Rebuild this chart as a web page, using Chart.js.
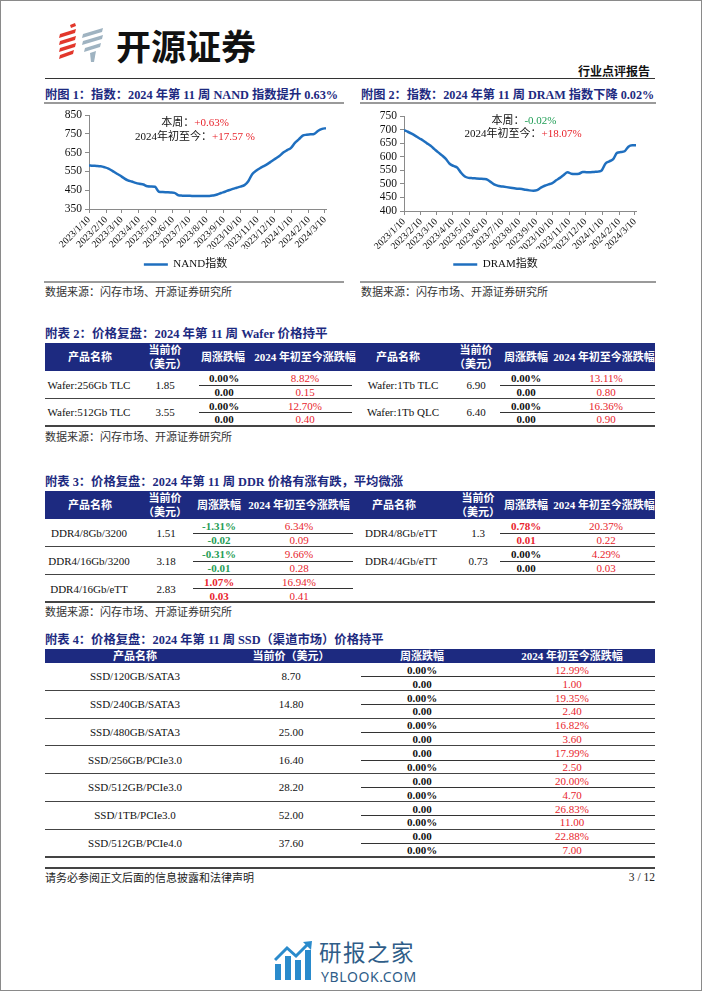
<!DOCTYPE html>
<html>
<head>
<meta charset="utf-8">
<script src="https://cdn.jsdelivr.net/npm/chart.js@4.4.1/dist/chart.umd.min.js"></script>
<style>
body { margin: 0; background: #fff; }
#page { position: relative; width: 702px; height: 991px; overflow: hidden; background: #fff;
  font-family: "Liberation Serif", "Noto Sans CJK SC", serif; color: #111; }
.frame { position: absolute; left: 0; top: 0; right: 0; bottom: 0; border: 1px solid #8a8a8a; pointer-events: none; }
.t { position: absolute; white-space: nowrap; line-height: 1; }
.ln { position: absolute; }
.cv { position: absolute; }
.red { color: #e8242c; }
.green { color: #1f9d55; }
</style>
</head>
<body>
<div id="page">
  <svg class="ln" style="left:54px;top:20px" width="56" height="46" viewBox="0 0 56 46">
    <g fill="#e2372b">
      <path d="M16 5 L21 3 L22 6 L17 8 Z"/>
      <path d="M6 14 L22 9 L21 13 L5 18 Z"/>
      <path d="M6 21 L22 16 L21 20 L5 25 Z"/>
      <path d="M6 28 L22 23 L21 27 L5 32 Z"/>
      <path d="M6 35 L20 30 L19 34 L5 39 Z"/>
    </g>
    <g fill="#9fb3c1">
      <path d="M29 14 L49 8 L48 12 L28 18 Z"/>
      <path d="M29 21 L49 15 L48 19 L28 25 Z"/>
      <path d="M31 28 L47 23 L46 27 L30 32 Z"/>
      <path d="M36 33 L42 31 L40 42 L37 42 Z"/>
    </g>
  </svg>
  <canvas id="nand" class="cv" width="300" height="175" style="left:45px;top:105px;width:300px;height:175px"></canvas>
  <canvas id="dram" class="cv" width="300" height="175" style="left:355px;top:105px;width:300px;height:175px"></canvas>
  <div class="frame"></div>
</div>
<script>
// x轴刻度（每月10日）
const monthTicks = ['2023/1/10', '2023/2/10', '2023/3/10', '2023/4/10', '2023/5/10', '2023/6/10', '2023/7/10',
  '2023/8/10', '2023/9/10', '2023/10/10', '2023/11/10', '2023/12/10', '2024/1/10', '2024/2/10', '2024/3/10'];
const startDate = '2023/1/10';

// 周度指数，从 2023/1/10 起每周一个点
const nandIndex = [582, 580, 579, 577, 572, 565, 553, 540, 528, 514, 502, 496, 489, 484, 480, 471,
  470, 468, 442, 440, 439, 438, 436, 423, 421, 420, 420, 419, 419, 419, 419, 419,
  422, 427, 435, 442, 450, 457, 463, 469, 477, 498, 535, 553, 567, 578, 590, 604,
  618, 632, 650, 663, 675, 702, 720, 740, 745, 747, 750, 766, 776, 780];
const dramIndex = [698, 692, 685, 677, 668, 660, 650, 640, 628, 616, 605, 592, 574, 566, 560, 541,
  527, 522, 521, 520, 519, 518, 515, 505, 496, 492, 490, 488, 486, 484, 482, 481,
  478, 476, 475, 477, 486, 493, 498, 503, 513, 522, 533, 543, 537, 536, 537, 544,
  543, 543, 544, 545, 550, 575, 583, 591, 614, 617, 620, 637, 642, 642];

const nandNote = { week: '+0.63%', ytd: '+17.57 %' };
const dramNote = { week: '-0.02%', ytd: '+18.07%' };

// 表格数据：名称、当前价、周涨跌幅、周涨跌额、年初至今涨跌幅、年初至今涨跌额
const waferLeft = [
  ['Wafer:256Gb TLC', '1.85', '0.00%', '0.00', '8.82%', '0.15'],
  ['Wafer:512Gb TLC', '3.55', '0.00%', '0.00', '12.70%', '0.40']
];
const waferRight = [
  ['Wafer:1Tb TLC', '6.90', '0.00%', '0.00', '13.11%', '0.80'],
  ['Wafer:1Tb QLC', '6.40', '0.00%', '0.00', '16.36%', '0.90']
];
const ddrLeft = [
  ['DDR4/8Gb/3200', '1.51', '-1.31%', '-0.02', '6.34%', '0.09'],
  ['DDR4/16Gb/3200', '3.18', '-0.31%', '-0.01', '9.66%', '0.28'],
  ['DDR4/16Gb/eTT', '2.83', '1.07%', '0.03', '16.94%', '0.41']
];
const ddrRight = [
  ['DDR4/8Gb/eTT', '1.3', '0.78%', '0.01', '20.37%', '0.22'],
  ['DDR4/4Gb/eTT', '0.73', '0.00%', '0.00', '4.29%', '0.03']
];
const ssdRows = [
  ['SSD/120GB/SATA3', '8.70', '0.00%', '0.00', '12.99%', '1.00'],
  ['SSD/240GB/SATA3', '14.80', '0.00%', '0.00', '19.35%', '2.40'],
  ['SSD/480GB/SATA3', '25.00', '0.00%', '0.00', '16.82%', '3.60'],
  ['SSD/256GB/PCIe3.0', '16.40', '0.00', '0.00%', '17.99%', '2.50'],
  ['SSD/512GB/PCIe3.0', '28.20', '0.00', '0.00%', '20.00%', '4.70'],
  ['SSD/1TB/PCIe3.0', '52.00', '0.00', '0.00%', '26.83%', '11.00'],
  ['SSD/512GB/PCIe4.0', '37.60', '0.00', '0.00%', '22.88%', '7.00']
];

const NAVY = '#1d2a80';
const RED = '#e8242c';
const GREEN = '#1f9d55';
const page = document.getElementById('page');

const txt = (x, y, s, o = {}) => {
  const d = document.createElement('div');
  d.className = 't';
  d.innerHTML = s;
  d.style.left = x + 'px';
  d.style.top = y + 'px';
  const ax = o.align === 'left' ? '0' : o.align === 'right' ? '-100%' : '-50%';
  d.style.transform = `translate(${ax}, -50%)`;
  d.style.fontSize = (o.size || 11) + 'px';
  if (o.bold) d.style.fontWeight = 'bold';
  if (o.color) d.style.color = o.color;
  if (o.ls) d.style.letterSpacing = o.ls + 'px';
  if (o.family) d.style.fontFamily = o.family;
  page.insertBefore(d, page.querySelector('.frame'));
  return d;
};
const rect = (x, y, w, h, c) => {
  const d = document.createElement('div');
  d.className = 'ln';
  Object.assign(d.style, { left: x + 'px', top: y + 'px', width: w + 'px', height: h + 'px', background: c });
  page.insertBefore(d, page.querySelector('.frame'));
};
const hline = (x1, x2, y, w = 1, c = '#444') => rect(x1, y - w / 2, x2 - x1, w, c);

// 页眉
txt(116, 44, '开源证券', { size: 35, bold: true, align: 'left', family: '"Noto Sans CJK SC"', color: '#111' });
txt(650, 71, '行业点评报告', { size: 12, bold: true, align: 'right', family: '"Noto Sans CJK SC"' });
hline(45, 655, 78.5, 1.5, '#333');

// 图标题
txt(45, 95, '附图 1：指数：2024 年第 11 周 NAND 指数提升 0.63%', { size: 12.3, bold: true, align: 'left', color: NAVY });
txt(361, 95, '附图 2：指数：2024 年第 11 周 DRAM 指数下降 0.02%', { size: 12.2, bold: true, align: 'left', color: NAVY });
hline(44, 344, 103, 1.5, '#9a9a9a');
hline(360, 656, 103, 1.5, '#9a9a9a');
hline(44, 344, 282, 1.5, '#9a9a9a');
hline(360, 656, 282, 1.5, '#9a9a9a');
txt(45, 292, '数据来源：闪存市场、开源证券研究所', { size: 11, align: 'left', color: '#333' });
txt(361, 292, '数据来源：闪存市场、开源证券研究所', { size: 11, align: 'left', color: '#333' });

// 图内注释
txt(195, 122, `本周：<span class="red">${nandNote.week}</span>`, { size: 11 });
txt(195, 135.5, `2024年初至今：<span class="red">${nandNote.ytd}</span>`, { size: 11 });
txt(524, 119.5, `本周：<span class="green">${dramNote.week}</span>`, { size: 11 });
txt(523, 133, `2024年初至今：<span class="red">${dramNote.ytd}</span>`, { size: 11 });

// 折线图
const dayOf = s => {
  const [y, m, d] = s.split('/').map(Number);
  const [y0, m0, d0] = startDate.split('/').map(Number);
  return Math.round((Date.UTC(y, m - 1, d) - Date.UTC(y0, m0 - 1, d0)) / 864e5);
};
const tickDays = monthTicks.map(dayOf);
const weekly = vals => vals.map((v, i) => ({ x: i * 7, y: v }));
const serif = 'Liberation Serif, "Noto Sans CJK SC", serif';

const makeChart = (id, label, values, yMin, yMax, step, yWidth, xHeight, padTop, padRight) => {
  const pts = weekly(values);
  new Chart(document.getElementById(id), {
    type: 'line',
    data: {
      datasets: [{
        label: label,
        data: pts,
        borderColor: '#1f6fbf',
        backgroundColor: '#1f6fbf',
        borderWidth: 2.5,
        pointRadius: 0,
        cubicInterpolationMode: 'monotone',
        fill: false
      }]
    },
    options: {
      responsive: false,
      animation: false,
      devicePixelRatio: 1,
      layout: { padding: { top: padTop, right: padRight, left: 0, bottom: 0 } },
      plugins: {
        tooltip: { enabled: false },
        legend: {
          position: 'bottom',
          labels: {
            usePointStyle: true,
            pointStyle: 'line',
            pointStyleWidth: 24,
            color: '#111',
            font: { family: serif, size: 11 }
          }
        }
      },
      scales: {
        x: {
          type: 'linear',
          min: 0,
          max: pts[pts.length - 1].x,
          afterBuildTicks: s => { s.ticks = tickDays.map(v => ({ value: v })); },
          afterFit: s => { s.height = xHeight; },
          grid: { drawOnChartArea: false, tickLength: 4, color: '#8a8a8a' },
          border: { color: '#8a8a8a' },
          ticks: {
            autoSkip: false,
            minRotation: 45,
            maxRotation: 45,
            padding: 1,
            color: '#111',
            font: { family: serif, size: 9.8 },
            callback: (v, i) => monthTicks[i]
          }
        },
        y: {
          min: yMin,
          max: yMax,
          afterFit: s => { s.width = yWidth; },
          grid: { drawOnChartArea: false, tickLength: 4, color: '#8a8a8a' },
          border: { color: '#8a8a8a' },
          ticks: { stepSize: step, autoSkip: false, padding: 3, color: '#111', font: { family: serif, size: 11.5 } }
        }
      }
    }
  });
};

makeChart('nand', 'NAND指数', nandIndex, 350, 850, 100, 44, 40, 10, 19);
makeChart('dram', 'DRAM指数', dramIndex, 400, 750, 50, 49, 38, 11, 19);

// 表格
const weekColor = s => s.startsWith('-') ? GREEN : (parseFloat(s) > 0 ? RED : '#111');

const header2 = (y0, y1, cols) => {
  rect(45, y0, 610, y1 - y0, NAVY);
  const ym = (y0 + y1) / 2;
  cols.forEach(c => {
    txt(c[0], ym, '产品名称', { size: 11, bold: true, color: '#fff' });
    txt(c[1], ym - 7, '当前价', { size: 11, bold: true, color: '#fff' });
    txt(c[1], ym + 7, '（美元）', { size: 11, bold: true, color: '#fff' });
    txt(c[2], ym, '周涨跌幅', { size: 11, bold: true, color: '#fff' });
    txt(c[3], ym, '2024 年初至今涨跌幅', { size: 11, bold: true, color: '#fff' });
  });
};

const rowBlock = (r, top, h, cols, sub) => {
  const mid = top + h / 2;
  txt(cols[0], mid, r[0], { size: 11 });
  txt(cols[1], mid, r[1], { size: 11 });
  txt(cols[2], top + 7.3, r[2], { size: 11, bold: true, color: weekColor(r[2]) });
  txt(cols[2], top + 21, r[3], { size: 11, bold: true, color: weekColor(r[3]) });
  txt(cols[3], top + 7.3, r[4], { size: 11, color: RED });
  txt(cols[3], top + 21, r[5], { size: 11, color: RED });
  hline(sub[0], sub[1], top + 14.3, 1, '#333');
};

// 附表 2
txt(45, 334, '附表 2：价格复盘：2024 年第 11 周 Wafer 价格持平', { size: 12.5, bold: true, align: 'left', color: NAVY });
const wL = [89, 165, 224, 305], wR = [403, 476, 526, 606];
header2(343.3, 370.7, [[90, 165, 223, 305], [398, 476, 526, 604]]);
waferLeft.forEach((r, i) => rowBlock(r, 370.7 + i * 27.7, 27.7, wL, [199, 352]));
waferRight.forEach((r, i) => rowBlock(r, 370.7 + i * 27.7, 27.7, wR, [500, 655]));
hline(45, 655, 398.4, 1, '#444');
hline(45, 655, 426, 1.5, '#444');
txt(45, 437, '数据来源：闪存市场、开源证券研究所', { size: 11, align: 'left', color: '#333' });

// 附表 3
txt(45, 482, '附表 3：价格复盘：2024 年第 11 周 DDR 价格有涨有跌，平均微涨', { size: 12.3, bold: true, align: 'left', color: NAVY });
const dL = [89, 166, 219, 299], dR = [401, 478, 526, 606];
header2(491, 519, [[90, 165, 219, 299], [394, 478, 526, 604]]);
ddrLeft.forEach((r, i) => rowBlock(r, 519 + i * 27.8, 27.8, dL, [193, 353]));
ddrRight.forEach((r, i) => rowBlock(r, 519 + i * 27.8, 27.8, dR, [500, 655]));
hline(45, 655, 546.8, 1, '#444');
hline(45, 655, 574.8, 1, '#444');
hline(45, 655, 602, 1.5, '#444');
txt(45, 612, '数据来源：闪存市场、开源证券研究所', { size: 11, align: 'left', color: '#333' });

// 附表 4
txt(45, 640, '附表 4：价格复盘：2024 年第 11 周 SSD（渠道市场）价格持平', { size: 12.3, bold: true, align: 'left', color: NAVY });
const sC = [135, 291, 422, 572];
rect(45, 649, 610, 13.5, NAVY);
txt(sC[0], 655.8, '产品名称', { size: 11, bold: true, color: '#fff' });
txt(sC[1], 655.8, '当前价（美元）', { size: 11, bold: true, color: '#fff' });
txt(sC[2], 655.8, '周涨跌幅', { size: 11, bold: true, color: '#fff' });
txt(sC[3], 655.8, '2024 年初至今涨跌幅', { size: 11, bold: true, color: '#fff' });
ssdRows.forEach((r, i) => {
  const top = 662.5 + i * 27.75;
  rowBlock(r, top, 27.75, sC, [361, 655]);
  hline(45, 655, top + 27.75, i === ssdRows.length - 1 ? 1.5 : 1, '#444');
});

// 页脚
hline(45, 655, 868, 1.5, '#444');
txt(45, 877.5, '请务必参阅正文后面的信息披露和法律声明', { size: 11, align: 'left', color: '#222' });
txt(655, 877.5, '3 / 12', { size: 11.5, align: 'right', color: '#222' });

// 水印
const wm = document.createElementNS('http://www.w3.org/2000/svg', 'svg');
wm.setAttribute('width', '40');
wm.setAttribute('height', '42');
wm.setAttribute('viewBox', '0 0 40 42');
wm.setAttribute('class', 'ln');
wm.style.left = '274px';
wm.style.top = '940px';
wm.innerHTML = '<g fill="#2a8bcc"><rect x="1" y="24" width="6" height="16"/><rect x="11" y="16" width="6" height="24"/>' +
  '<rect x="21" y="20" width="6" height="20"/><rect x="31" y="10" width="6" height="30"/></g>' +
  '<path d="M1 20 L13 8 L22 16 L34 4" stroke="#2a8bcc" stroke-width="3" fill="none"/>' +
  '<path d="M29 2 L38 1 L37 10 Z" fill="#2a8bcc"/>';
page.insertBefore(wm, page.querySelector('.frame'));
txt(319, 950.5, '研报之家', { size: 22.5, align: 'left', color: '#2f5d88', family: '"Noto Sans CJK SC"', ls: 1.5 });
txt(321, 977, 'YBLOOK.COM', { size: 14, align: 'left', color: '#2f5d88', family: '"Noto Sans", sans-serif', ls: 0.6 });
</script>
</body>
</html>
